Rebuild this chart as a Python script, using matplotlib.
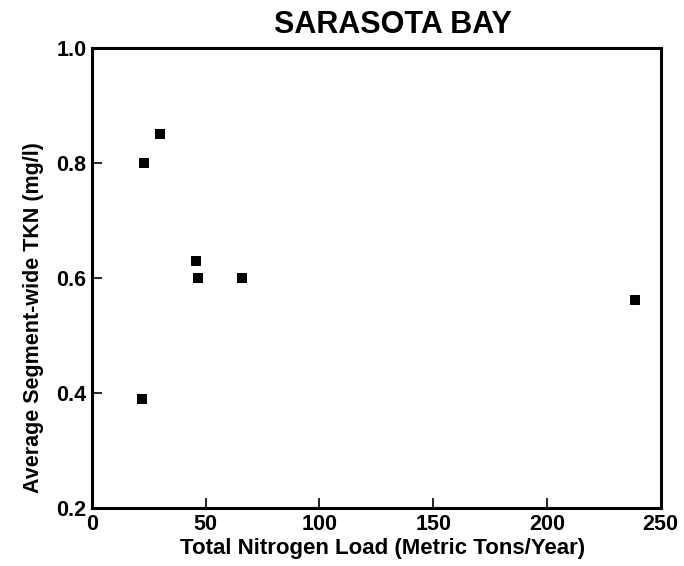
import matplotlib
matplotlib.use('Agg')
import matplotlib.pyplot as plt

plt.rcParams['font.family'] = ['Liberation Sans', 'DejaVu Sans']
plt.rcParams['font.weight'] = 'bold'

# Total nitrogen load (metric tons/year) vs average segment-wide TKN (mg/l)
n_load = [23, 30, 22, 45.5, 46.5, 66, 238.5]
tkn = [0.80, 0.85, 0.39, 0.63, 0.60, 0.60, 0.562]

x_ticks = [0, 50, 100, 150, 200, 250]
y_ticks = [0.2, 0.4, 0.6, 0.8, 1.0]

fig = plt.figure(figsize=(6.84, 5.66), dpi=100)
ax = fig.add_axes([0.1345, 0.1025, 0.8315, 0.8125])

ax.plot(n_load, tkn, 's', color='black', markersize=7.5, markeredgewidth=0)

ax.set_xlim(0, 250)
ax.set_ylim(0.2, 1.0)
ax.set_xticks(x_ticks)
ax.set_yticks(y_ticks)
ax.set_xticklabels([str(v) for v in x_ticks])
ax.set_yticklabels([f'{v:.1f}' for v in y_ticks])
ax.tick_params(direction='in', length=7, width=1.2, labelsize=15.5, pad=4)
for lbl in ax.get_xticklabels() + ax.get_yticklabels():
    lbl.set_fontweight('bold')
for s in ax.spines.values():
    s.set_linewidth(2.2)

ax.set_xlabel('Total Nitrogen Load (Metric Tons/Year)', fontsize=16, fontweight='bold', labelpad=3)
ax.set_ylabel('Average Segment-wide TKN (mg/l)', fontsize=15.5, fontweight='bold', labelpad=6)
ax.xaxis.set_label_coords(0.511, -0.065)
ax.yaxis.set_label_coords(-0.085, 0.415)
ax.set_title('SARASOTA BAY', fontsize=22, fontweight='bold', pad=11, x=0.529)

fig.savefig('out.png', dpi=100)
